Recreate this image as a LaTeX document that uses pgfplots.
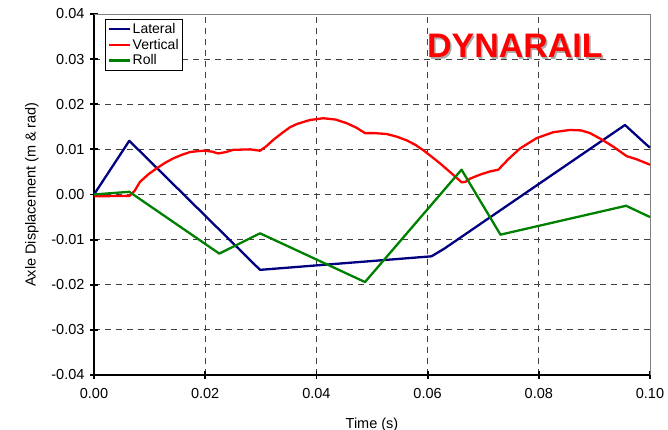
\documentclass[border=0pt]{standalone}
\usepackage{pgfplots}
\pgfplotsset{compat=1.18}
\usepackage{fontspec}
\setmainfont{Liberation Sans}
\definecolor{cBlue}{RGB}{0,0,128}
\definecolor{cRed}{RGB}{255,0,0}
\definecolor{cGreen}{RGB}{0,128,0}
\begin{document}
\begin{tikzpicture}[x=1pt,y=1pt]
\useasboundingbox (0,0) rectangle (668,430);
\begin{axis}[
  at={(94pt,55pt)}, anchor=south west,
  scale only axis, width=556pt, height=361pt,
  xmin=0, xmax=0.1, ymin=-0.04, ymax=0.04,
  xtick={0,0.02,0.04,0.06,0.08,0.1},
  xticklabels={0.00,0.02,0.04,0.06,0.08,0.10},
  ytick={-0.04,-0.03,-0.02,-0.01,0,0.01,0.02,0.03,0.04},
  yticklabels={-0.04,-0.03,-0.02,-0.01,0.00,0.01,0.02,0.03,0.04},
  scaled ticks=false,
  axis x line*=bottom, axis y line*=left,
  axis line style={black, line width=2.2pt, -},
  tick align=center, major tick length=8pt,
  tick style={black, line width=1.8pt},
  ticklabel style={font=\fontsize{14.5}{16}\selectfont},
  xticklabel style={yshift=-6pt},
  yticklabel style={xshift=-2pt},
  grid=major,
  major grid style={black!75, dash pattern=on 6pt off 5pt, line width=0.9pt},
  xlabel={Time (s)}, ylabel={Axle Displacement (m \& rad)},
  label style={font=\fontsize{14.5}{16}\selectfont},
  xlabel style={yshift=-12pt},
  ylabel style={yshift=6pt},
  legend style={at={(rel axis cs:0.02,0.986)}, anchor=north west,
    font=\fontsize{14}{15}\selectfont, draw=black, line width=0.8pt,
    row sep=0pt, inner sep=2pt},
  legend cell align=left,
  every axis plot/.append style={line width=2.3pt, line join=round},
  legend image code/.code={\draw[#1, line width=2.2pt] (0pt,0pt) -- (21pt,0pt);},
  clip=false,
]
\draw[gray, line width=0.9pt] (rel axis cs:0,1) -- (rel axis cs:1,1) -- (rel axis cs:1,0);
\addplot[cBlue] coordinates {
(0,0) (0.00635,0.0119) (0.02986,-0.0167) (0.0607,-0.0137) (0.0630,-0.0120)
(0.0955,0.0154) (0.0994,0.0110) (0.1,0.0104)};
\addlegendentry{Lateral}
\addplot[cRed] coordinates {
(0,-0.0004) (0.0064,-0.0003) (0.0073,0.0008) (0.00827,0.0028) (0.0098,0.0045) (0.01127,0.0058)
(0.01276,0.0070) (0.01426,0.0080) (0.0158,0.0088) (0.01727,0.0094) (0.0186,0.0096)
(0.01996,0.0097) (0.0212,0.0095) (0.02236,0.0091) (0.0237,0.0094) (0.02505,0.0099)
(0.02806,0.0100) (0.02986,0.0097) (0.0310,0.0107) (0.03225,0.0121) (0.0338,0.0136)
(0.03525,0.0149) (0.03645,0.0156) (0.0388,0.0165) (0.04125,0.0169) (0.0435,0.0166)
(0.04545,0.0158) (0.0472,0.0148) (0.04874,0.0136) (0.0505,0.0136) (0.05264,0.0134)
(0.05450,0.0128) (0.05624,0.0120) (0.0578,0.0110) (0.05924,0.0098) (0.0607,0.0084)
(0.06223,0.0069) (0.0642,0.0048) (0.06613,0.0027) (0.0668,0.0028) (0.06763,0.0035)
(0.06942,0.0044) (0.0712,0.0051) (0.07272,0.0055) (0.0745,0.0078) (0.07662,0.0102)
(0.07962,0.0125) (0.0826,0.0138) (0.08561,0.0143) (0.0876,0.0142) (0.08921,0.0136)
(0.0913,0.0122) (0.0934,0.0106) (0.0958,0.0085) (0.0976,0.0078) (0.0994,0.0069) (0.1,0.0066)};
\addlegendentry{Vertical}
\addplot[cGreen] coordinates {
(0,0) (0.00635,0.0006) (0.02254,-0.0131) (0.02986,-0.0086) (0.04874,-0.0194)
(0.0661,0.0055) (0.0731,-0.0089) (0.0957,-0.0025) (0.1,-0.0050)};
\addlegendentry{Roll}
\node[font=\fontsize{34}{38}\selectfont\bfseries] at (axis cs:0.0757,0.0327)
  {\rlap{\kern1.6pt\raisebox{-1.6pt}{\textcolor{gray!65}{DYNARAIL}}}\textcolor{cRed}{DYNARAIL}};
\end{axis}
\end{tikzpicture}
\end{document}
